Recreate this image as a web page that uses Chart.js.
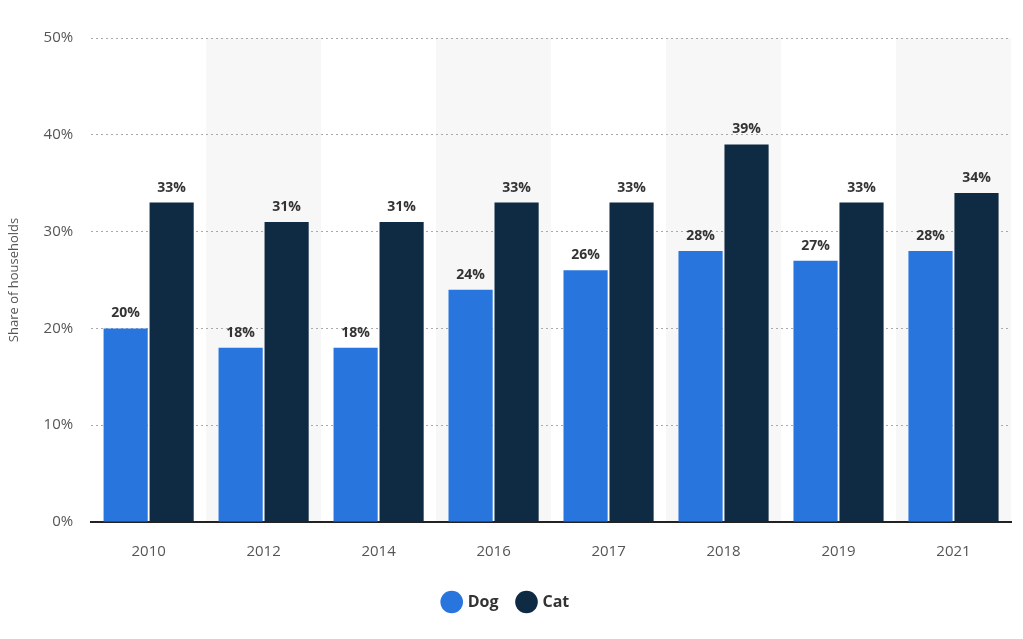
<!DOCTYPE html>
<html><head><meta charset="utf-8">
<script src="https://cdn.jsdelivr.net/npm/chart.js@4"></script>
<style>html,body{margin:0;padding:0;background:#fff}#w{width:1023px;height:639px}</style>
</head><body><div id="w"><canvas id="c"></canvas></div>
<script>
const categories=["2010","2012","2014","2016","2017","2018","2019","2021"];
const dogValues=[20,18,18,24,26,28,27,28];
const catValues=[33,31,31,33,33,39,33,34];
const yTicks=[0,10,20,30,40,50];

const bands={id:'bands',beforeDraw(ch){const x=ch.scales.x,a=ch.chartArea,c=ch.ctx;c.save();c.fillStyle='#f7f7f7';
const w=(x.right-x.left)/categories.length;
categories.forEach((_,i)=>{if(i%2===1){c.fillRect(x.getPixelForValue(i)-w/2,a.top,w,a.bottom-a.top);}});c.restore();}};
const labels={id:'labels',afterDatasetsDraw(ch){const c=ch.ctx;c.save();c.font='bold 14px "Open Sans"';c.fillStyle='#333';c.textAlign='center';c.textBaseline='bottom';
ch.data.datasets.forEach((d,di)=>{ch.getDatasetMeta(di).data.forEach((b,i)=>{c.fillText(d.data[i]+'%',b.x,b.y-8);});});c.restore();}};

new Chart(document.getElementById('c'),{type:'bar',
data:{labels:categories,datasets:[
{label:'Dog',data:dogValues,backgroundColor:'#2876dd',categoryPercentage:0.8,barPercentage:0.96},
{label:'Cat',data:catValues,backgroundColor:'#0f2a43',categoryPercentage:0.8,barPercentage:0.96}]},
options:{responsive:true,maintainAspectRatio:false,animation:false,
layout:{padding:{left:2,right:12,top:38,bottom:19}},
plugins:{legend:{position:'bottom',labels:{usePointStyle:true,pointStyle:'circle',boxWidth:16,boxHeight:16,padding:20,color:'#333',font:{family:'Open Sans',size:16,weight:'bold'}}},tooltip:{enabled:false}},
scales:{
x:{grid:{display:false},border:{color:'#222',width:2},ticks:{color:'#555',padding:13,font:{family:'Open Sans',size:15}}},
y:{min:0,max:50,afterBuildTicks(s){s.ticks=yTicks.map(v=>({value:v}));},
grid:{color:'#aaa',drawTicks:false},border:{display:false,dash:[2,3]},
ticks:{color:'#555',padding:18,font:{family:'Open Sans',size:15},callback:v=>v+'%'},
title:{display:true,text:'Share of households',color:'#555',font:{family:'Open Sans',size:13}}}}},
plugins:[bands,labels]});
</script></body></html>
